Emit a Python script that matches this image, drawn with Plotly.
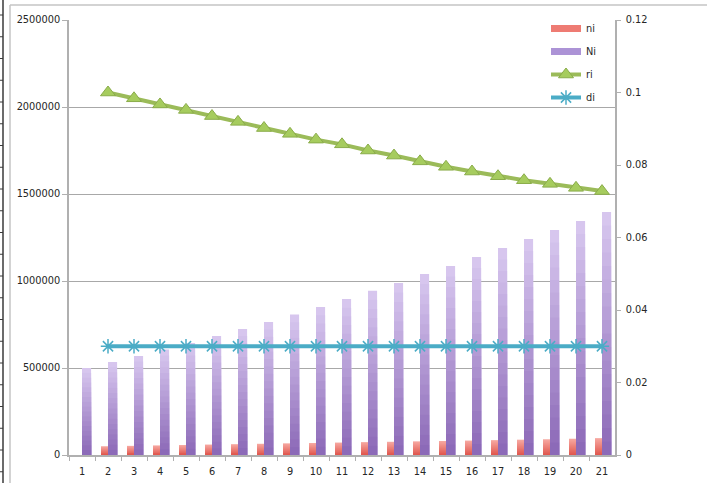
import plotly.graph_objects as go

# Period index
periods = [str(i) for i in range(1, 22)]

# Bar series (left axis)
ni = [None, 50000, 52500, 55000, 57500, 60000, 62000, 64500, 67000, 69000, 71500,
      74000, 76000, 78500, 80500, 83000, 85500, 88000, 90500, 93500, 97000]
Ni = [500000, 534500, 569000, 606000, 643500, 684000, 724000, 764000, 808000, 850000,
      896500, 944000, 988500, 1040000, 1086000, 1138000, 1190000, 1241000, 1293000,
      1345000, 1397000]

# Rate series (right axis)
ri = [None, 0.1000, 0.0984, 0.0967, 0.0952, 0.0935, 0.0919, 0.0902, 0.0886, 0.0870,
      0.0857, 0.0840, 0.0826, 0.0810, 0.0795, 0.0782, 0.0769, 0.0758, 0.0748, 0.0737,
      0.0728]
di = [None] + [0.03] * 20

left_ticks = [0, 500000, 1000000, 1500000, 2000000, 2500000]
right_ticks = [0, 0.02, 0.04, 0.06, 0.08, 0.1, 0.12]

W, H = 707, 483
FONT = "DejaVu Sans"
FS = 9.8
TXT = "#262626"
AXIS = "#b0b0b0"


def px_x(p):
    return p / W


def px_y(p):
    return 1 - p / H


def lerp_color(c1, c2, t):
    a = [int(c1[i:i + 2], 16) for i in (1, 3, 5)]
    b = [int(c2[i:i + 2], 16) for i in (1, 3, 5)]
    return "#" + "".join(f"{round(a[i] + (b[i] - a[i]) * t):02x}" for i in range(3))


fig = go.Figure()

STEPS = 18


def gradient_bars(name, values, top_col, bot_col, offset, width):
    # stack progressively shorter, darker bars to shade each column top-to-bottom
    for k in range(STEPS):
        frac = (STEPS - k) / STEPS
        col = lerp_color(top_col, bot_col, (k + 0.5) / STEPS)
        fig.add_trace(go.Bar(
            x=periods,
            y=[None if v is None else v * frac for v in values],
            name=name,
            marker=dict(color=col, line=dict(width=0)),
            offset=offset, width=width,
            showlegend=False,
            legendgroup=name,
            hoverinfo="skip" if k else "x+y",
        ))


def legend_swatch(name, color, rank):
    # flat wide swatch for the bar series in the legend
    fig.add_trace(go.Scatter(
        x=[None], y=[None], name=name, mode="lines",
        line=dict(color=color, width=7),
        legendrank=rank, legendgroup=name, hoverinfo="skip",
    ))


gradient_bars("ni", ni, "#f7aaa3", "#e0564d", -0.27, 0.27)
gradient_bars("Ni", Ni, "#d9c9f0", "#8a67b6", 0.0, 0.35)
legend_swatch("ni", "#ee7b73", 1)
legend_swatch("Ni", "#ac93d6", 2)

fig.add_trace(go.Scatter(
    x=periods, y=ri, name="ri", yaxis="y2", mode="lines+markers",
    line=dict(color="#9bbb59", width=4),
    marker=dict(symbol="triangle-up", size=13, color="#a6cc5e",
                line=dict(color="#8aac4a", width=1)),
    legendrank=3, legendgroup="ri",
))
fig.add_trace(go.Scatter(
    x=periods, y=di, name="di", yaxis="y2", mode="lines+markers",
    line=dict(color="#4bacc6", width=4),
    marker=dict(symbol="asterisk-open", size=12,
                line=dict(color="#7ccde2", width=1.5)),
    legendrank=4, legendgroup="di",
))

# frame and ruler decorations
shapes = [
    dict(type="line", xref="paper", yref="paper", x0=px_x(10), x1=1,
         y0=px_y(5), y1=px_y(5), line=dict(color="#c4c4c4", width=1.5)),
    dict(type="line", xref="paper", yref="paper", x0=px_x(10), x1=px_x(10),
         y0=0, y1=px_y(5), line=dict(color="#c4c4c4", width=1.5)),
    dict(type="line", xref="paper", yref="paper", x0=px_x(3), x1=px_x(3),
         y0=0, y1=1, line=dict(color="#3a3a3a", width=1.5)),
]
tick_y = 15.0
while tick_y < H:
    shapes.append(dict(type="line", xref="paper", yref="paper", x0=0, x1=px_x(3),
                       y0=px_y(tick_y), y1=px_y(tick_y),
                       line=dict(color="#3a3a3a", width=1)))
    tick_y += 21.75

fig.update_layout(
    width=W, height=H,
    margin=dict(l=0, r=0, t=0, b=0),
    paper_bgcolor="white", plot_bgcolor="white",
    barmode="overlay",
    font=dict(family=FONT, size=FS, color=TXT),
    shapes=shapes,
    xaxis=dict(
        type="category", domain=[px_x(69), px_x(615)],
        range=[-0.5, len(periods) - 0.5],
        showgrid=False, zeroline=False,
        showline=True, linecolor=AXIS, linewidth=1.5,
        ticks="outside", ticklen=4, tickcolor=AXIS, tickson="boundaries",
        ticklabelstandoff=6,
        tickfont=dict(family=FONT, size=FS, color=TXT),
        automargin=False, fixedrange=True,
    ),
    yaxis=dict(
        domain=[px_y(455), px_y(20)], range=[0, 2500000],
        tickvals=left_ticks, ticktext=[str(v) for v in left_ticks],
        showgrid=True, gridcolor="#a8a8a8", gridwidth=1.2,
        zeroline=False, showline=True, linecolor=AXIS, linewidth=1.5,
        ticks="outside", ticklen=5, tickcolor=AXIS,
        tickfont=dict(family=FONT, size=FS, color=TXT),
        automargin=False,
    ),
    yaxis2=dict(
        overlaying="y", side="right", range=[0, 0.12],
        tickvals=right_ticks, ticktext=["0", "0.02", "0.04", "0.06", "0.08", "0.1", "0.12"],
        showgrid=False, zeroline=False,
        showline=True, linecolor=AXIS, linewidth=1.5,
        ticks="outside", ticklen=4, tickcolor=AXIS, ticklabelstandoff=3,
        tickfont=dict(family=FONT, size=FS, color=TXT),
        automargin=False,
    ),
    legend=dict(
        x=px_x(546), y=px_y(14), xanchor="left", yanchor="top",
        bgcolor="rgba(0,0,0,0)", borderwidth=0,
        font=dict(family=FONT, size=FS, color=TXT),
        tracegroupgap=4, itemwidth=30,
    ),
    showlegend=True,
)

fig.write_html("out.html")
